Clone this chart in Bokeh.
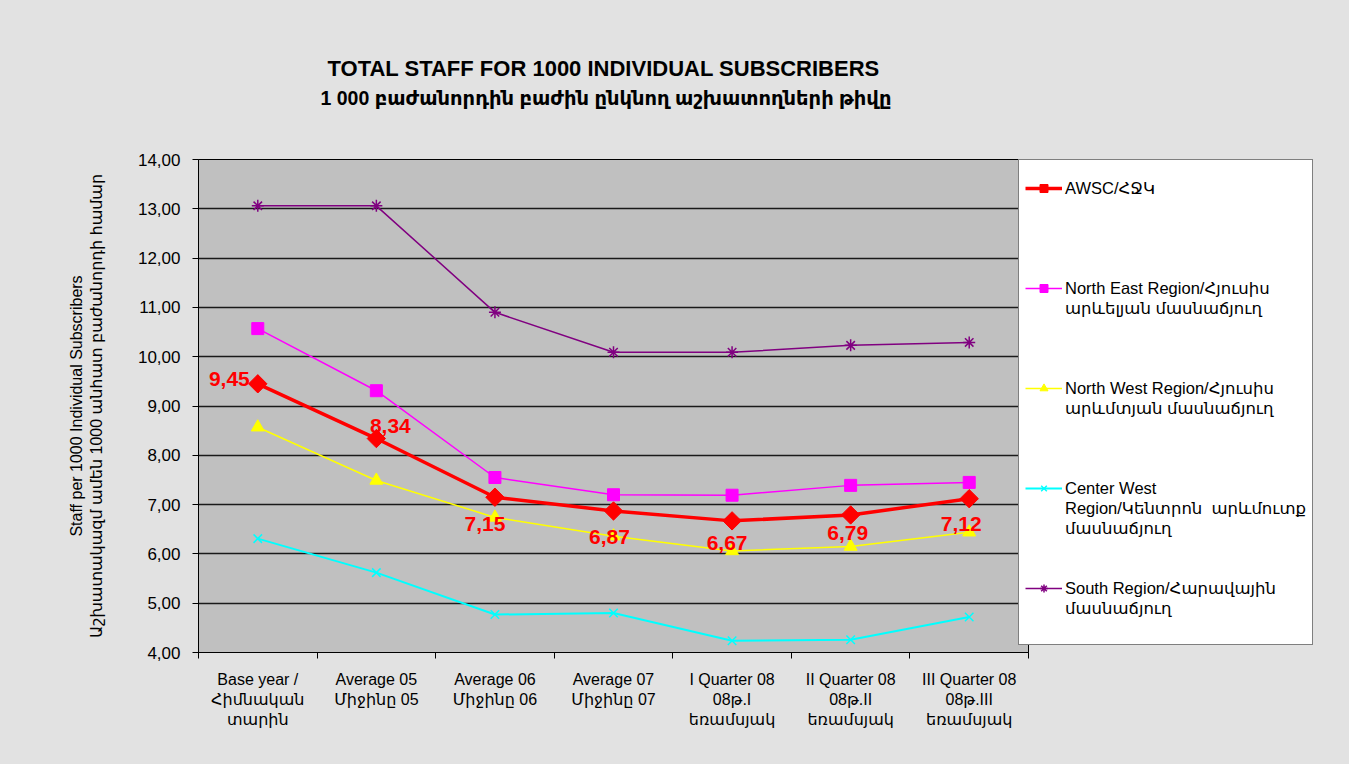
from bokeh.plotting import figure
from bokeh.models import Range1d, FixedTicker, Legend, LegendItem, ColumnDataSource, Title
from bokeh.embed import file_html
from bokeh.resources import INLINE
from bokeh.core.properties import value

categories = [
    "Base year /\nՀիմնական\nտարին",
    "Average 05\nՄիջինը 05",
    "Average 06\nՄիջինը 06",
    "Average 07\nՄիջինը 07",
    "I Quarter 08\n08թ.I\nեռամսյակ",
    "II Quarter 08\n08թ.II\nեռամսյակ",
    "III Quarter 08\n08թ.III\nեռամսյակ",
]
awsc = [9.45, 8.34, 7.15, 6.87, 6.67, 6.79, 7.12]
north_east = [10.57, 9.31, 7.55, 7.20, 7.19, 7.39, 7.45]
north_west = [8.57, 7.49, 6.74, 6.36, 6.06, 6.15, 6.44]
center_west = [6.31, 5.62, 4.77, 4.80, 4.24, 4.26, 4.72]
south = [13.06, 13.06, 10.90, 10.09, 10.09, 10.23, 10.29]
y_ticks = [4, 5, 6, 7, 8, 9, 10, 11, 12, 13, 14]

series_names = [
    "AWSC/ՀՋԿ",
    "North East Region/Հյուսիս\nարևելյան մասնաճյուղ",
    "North West Region/Հյուսիս\nարևմտյան մասնաճյուղ",
    "Center West\nRegion/Կենտրոն  արևմուտք\nմասնաճյուղ",
    "South Region/Հարավային\nմասնաճյուղ",
]
title_lines = ["TOTAL STAFF FOR 1000 INDIVIDUAL SUBSCRIBERS",
               "1 000 բաժանորդին բաժին ընկնող աշխատողների թիվը"]
y_title = "Staff per 1000 Individual Subscribers\nԱշխատակազմ ամեն 1000 անհատ բաժանորդի համար"

FONT = "Liberation Sans, Arial, DejaVu Sans, sans-serif"
BG = "#e2e2e2"

x = [i + 0.5 for i in range(len(categories))]

p = figure(frame_width=830, frame_height=493, output_backend="svg", toolbar_location=None,
           title=None,
           x_range=Range1d(0, len(categories)), y_range=Range1d(4, 14),
           min_border_left=198, min_border_right=321, min_border_top=159, min_border_bottom=112)
p.background_fill_color = "#c0c0c0"
p.border_fill_color = BG
p.outline_line_color = "black"
p.outline_line_width = 1

# spacer between the titles and the plot area
t0 = Title(text=" ", align="left", text_font=FONT, text_font_size="19.5px",
           text_font_style="bold", standoff=25)
t2 = Title(text=title_lines[1], align="left", text_font=FONT, text_font_size="19.5px",
           text_font_style="bold", text_color="black", standoff=4, offset=122)
t1 = Title(text=title_lines[0], align="left", text_font=FONT, text_font_size="22px",
           text_font_style="bold", text_color="black", standoff=4, offset=129)
p.add_layout(t0, "above")
p.add_layout(t2, "above")
p.add_layout(t1, "above")

p.xgrid.visible = False
p.ygrid.grid_line_color = "#1a1a1a"
p.ygrid.grid_line_width = 1.5
p.ygrid.ticker = FixedTicker(ticks=y_ticks)

# y axis
p.yaxis.ticker = FixedTicker(ticks=y_ticks)
p.yaxis.major_label_overrides = {t: f"{t:.2f}".replace(".", ",") for t in y_ticks}
p.yaxis.major_label_text_font = FONT
p.yaxis.major_label_text_font_size = "17px"
p.yaxis.major_label_text_color = "black"
p.yaxis.major_tick_out = 6
p.yaxis.major_tick_in = 0
p.yaxis.minor_tick_line_color = None
p.yaxis.major_label_standoff = 12
p.yaxis.axis_line_color = "black"
p.yaxis.axis_label = y_title
p.yaxis.axis_label_text_font = FONT
p.yaxis.axis_label_text_font_size = "16px"
p.yaxis.axis_label_text_font_style = "normal"
p.yaxis.axis_label_text_color = "black"
p.yaxis.axis_label_standoff = 30

# x axis
p.xaxis.ticker = FixedTicker(ticks=x, minor_ticks=list(range(len(categories) + 1)))
p.xaxis.major_label_overrides = {xi: c for xi, c in zip(x, categories)}
p.xaxis.major_tick_line_color = None
p.xaxis.minor_tick_out = 6
p.xaxis.minor_tick_in = 0
p.xaxis.minor_tick_line_color = "black"
p.xaxis.major_label_text_font = FONT
p.xaxis.major_label_text_font_size = "16px"
p.xaxis.major_label_text_color = "black"
p.xaxis.major_label_standoff = 12
p.xaxis.axis_line_color = "black"

colors = ["#ff0000", "#ff00ff", "#ffff00", "#00ffff", "#800080"]
widths = [3.5, 1.5, 1.5, 2, 1.5]
markers = ["square", "square", "triangle", "x", "asterisk"]
angles = [0.785398, 0, 0, 0, 0]
sizes = [13, 12, 13, 12, 12]
data = [awsc, north_east, north_west, center_west, south]

order = [4, 3, 2, 1, 0]
renderers = {}
for i in order:
    src = ColumnDataSource(dict(x=x, y=data[i]))
    ln = p.line("x", "y", source=src, line_color=colors[i], line_width=widths[i])
    if markers[i] in ("x", "asterisk"):
        sc = p.scatter("x", "y", source=src, marker=markers[i], size=sizes[i],
                       line_color=colors[i], line_width=1.5)
    else:
        sc = p.scatter("x", "y", source=src, marker=markers[i], size=sizes[i], angle=angles[i],
                       fill_color=colors[i], line_color=colors[i])
    renderers[i] = [ln, sc]

# legend: one row per text line, each series block is 5 rows tall
ROWS = 5
items = []
for i, name in enumerate(series_names):
    lines = name.split("\n")
    nrows = ROWS if i < len(series_names) - 1 else ROWS - 2
    for r in range(nrows):
        if r == 0:
            items.append(LegendItem(label=lines[0], renderers=renderers[i]))
        elif r < len(lines):
            items.append(LegendItem(label=lines[r], renderers=[]))
        else:
            items.append(LegendItem(label=" ", renderers=[]))

# data labels on AWSC
lab_dx = [-8, 14, -10, -4, -5, -3, -8]
lab_dy = [5, 13, -27, -26, -22, -18, -25]
lab_align = ["right", "center", "center", "center", "center", "center", "center"]
lab_src = ColumnDataSource(dict(x=x, y=awsc, t=[f"{v:.2f}".replace(".", ",") for v in awsc],
                                dx=lab_dx, dy=[-d for d in lab_dy], al=lab_align))
p.text("x", "y", text="t", source=lab_src, x_offset="dx", y_offset="dy", text_align="al",
       text_baseline="middle", text_color="#ff0000", text_font=value(FONT),
       text_font_size="21px", text_font_style="bold")

legend = Legend(items=items, location=(-10, 7), orientation="vertical")
legend.title = " "
legend.title_text_font_size = "8px"
legend.title_standoff = 3
legend.background_fill_color = "white"
legend.background_fill_alpha = 1
legend.border_line_color = "black"
legend.border_line_width = 1.5
legend.label_text_font = FONT
legend.label_text_font_size = "16.5px"
legend.label_text_color = "black"
legend.label_height = 20
legend.glyph_height = 20
legend.glyph_width = 37
legend.spacing = 0
legend.padding = 6
legend.margin = 0
legend.label_standoff = 3
p.add_layout(legend, "right")

html = file_html(p, INLINE)
html = html.replace("</head>", "<style>html, body {background: %s;}</style></head>" % BG, 1)
open("out.html", "w").write(html)
